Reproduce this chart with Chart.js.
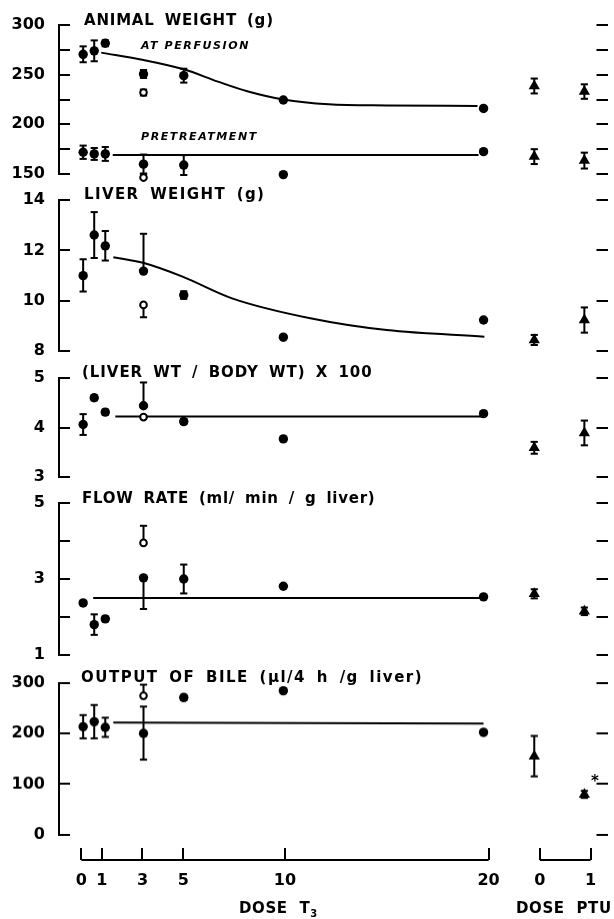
<!DOCTYPE html>
<html>
<head>
<meta charset="utf-8">
<script src="https://cdn.jsdelivr.net/npm/chart.js@4.4.0/dist/chart.umd.min.js"></script>
<style>
  html, body { margin: 0; padding: 0; background: #fff; }
  #page { position: relative; width: 614px; height: 919px; overflow: hidden; background: #fff; }
  .panel { position: absolute; left: 0; width: 614px; }
  .lbl { position: absolute; font-family: 'DejaVu Sans', sans-serif; color: #000; line-height: 1; white-space: pre; }
  .ttl { font-size: 15px; font-weight: bold; letter-spacing: 0.8px; word-spacing: 4px; }
  .sub { font-size: 11px; font-weight: bold; font-style: italic; letter-spacing: 1.6px; }
  .dose { font-size: 15px; font-weight: bold; letter-spacing: 0.6px; word-spacing: 6px; }
  .dose sub { font-size: 10px; letter-spacing: 0; }
</style>
</head>
<body>
<div id="page">
  <div class="lbl ttl" style="left:84px;top:13px">ANIMAL WEIGHT (g)</div>
  <div class="lbl sub" style="left:141px;top:40px">AT PERFUSION</div>
  <div class="lbl sub" style="left:141px;top:131px">PRETREATMENT</div>
  <div class="lbl ttl" style="left:84px;top:187px;letter-spacing:1.4px">LIVER WEIGHT (g)</div>
  <div class="lbl ttl" style="left:82px;top:365px;letter-spacing:0.95px">(LIVER WT / BODY WT) X 100</div>
  <div class="lbl ttl" style="left:82px;top:491px;letter-spacing:0.75px">FLOW RATE (ml/ min / g liver)</div>
  <div class="lbl ttl" style="left:81px;top:670px;letter-spacing:1.5px">OUTPUT OF BILE (μl/4 h /g liver)</div>
  <div class="lbl ttl" style="left:591px;top:774px">*</div>
  <div class="lbl dose" style="left:239px;top:901px">DOSE T<sub>3</sub></div>
  <div class="lbl dose" style="left:516px;top:901px">DOSE PTU</div>
</div>
<script>
// ---- shared x positions (T3 dose groups, then the two PTU groups) ----
const doseX = [0.1, 0.65, 1.2, 3.1, 5.1, 10.05, 20];
const openX = [3.1];
const ptuX = [22.52, 25.01];
const xTickPos = [0, 1, 3, 5, 10, 20, 22.52, 25.01];
const xTickLabels = ['0', '1', '3', '5', '10', '20', '0', '1'];

// ---- animal weight (g) ----
const weightTicks = [150, 175, 200, 225, 250, 275, 300];
const weightTickLabels = ['150', '', '200', '', '250', '', '300'];
const perfMean = [270.5, 274, 281.6, 250.7, 249, 224.5, 216];
const perfUp = [8, 10.5, 3, 4, 7, 0, 0];
const perfDown = [8, 10.5, 3, 4, 7, 0, 0];
const perfOpen = [232];
const perfOpenUp = [3];
const perfOpenDown = [3];
const perfPtu = [238.6, 233];
const perfPtuErr = [7.5, 7.3];
const perfCurveX = [1.0, 3.1, 5.1, 6.8, 8.3, 10.05, 12.3, 15.2, 19.7];
const perfCurveY = [272.2, 264.8, 255.4, 243, 233, 225, 220.2, 219, 218.5];

const pretMean = [171.9, 170.2, 170.2, 159.9, 159, 149.4, 172.5];
const pretUp = [6.7, 6, 7, 9.7, 10, 0, 0];
const pretDown = [6.7, 6, 7, 9.7, 10, 0, 0];
const pretOpen = [146.4];
const pretOpenUp = [4];
const pretOpenDown = [4];
const pretPtu = [167.5, 163.5];
const pretPtuErr = [7.5, 8];
const pretCurveX = [1.57, 19.75];
const pretCurveY = [169.2, 169.2];

// ---- liver weight (g) ----
const liverTicks = [8, 10, 12, 14];
const liverTickLabels = ['8', '10', '12', '14'];
const liverMean = [11.0, 12.61, 12.18, 11.18, 10.23, 8.56, 9.24];
const liverUp = [0.65, 0.91, 0.59, 1.48, 0.15, 0, 0];
const liverDown = [0.63, 0.91, 0.58, 0, 0.15, 0, 0];
const liverOpen = [9.84];
const liverOpenUp = [0];
const liverOpenDown = [0.49];
const liverPtu = [8.45, 9.24];
const liverPtuErr = [0.2, 0.5];
const liverCurveX = [1.6, 3.16, 5.04, 7.5, 11.39, 15.19, 20.04];
const liverCurveY = [11.73, 11.49, 10.96, 10.10, 9.31, 8.84, 8.58];

// ---- (liver wt / body wt) x 100 ----
const ratioTicks = [3, 4, 5];
const ratioTickLabels = ['3', '4', '5'];
const ratioMean = [4.06, 4.6, 4.31, 4.44, 4.12, 3.77, 4.28];
const ratioUp = [0.21, 0.05, 0.05, 0.47, 0.05, 0, 0];
const ratioDown = [0.21, 0.05, 0.05, 0, 0.05, 0, 0];
const ratioOpen = [4.21];
const ratioOpenUp = [0.03];
const ratioOpenDown = [0.03];
const ratioPtu = [3.59, 3.89];
const ratioPtuErr = [0.12, 0.25];
const ratioCurveX = [1.7, 20];
const ratioCurveY = [4.22, 4.22];

// ---- flow rate (ml/min/g liver) ----
const flowTicks = [1, 2, 3, 4, 5];
const flowTickLabels = ['1', '', '3', '', '5'];
const flowMean = [2.37, 1.8, 1.95, 3.03, 3.0, 2.81, 2.53];
const flowUp = [0.05, 0.27, 0.06, 0, 0.38, 0, 0];
const flowDown = [0.05, 0.27, 0.06, 0.82, 0.38, 0, 0];
const flowOpen = [3.95];
const flowOpenUp = [0.45];
const flowOpenDown = [0];
const flowPtu = [2.61, 2.15];
const flowPtuErr = [0.12, 0.1];
const flowCurveX = [0.6, 20];
const flowCurveY = [2.5, 2.5];

// ---- output of bile (ul/4 h/g liver) ----
const bileTicks = [0, 100, 200, 300];
const bileTickLabels = ['0', '100', '200', '300'];
const bileMean = [213.7, 223.7, 212.5, 200.5, 271.5, 284.9, 202.6];
const bileUp = [23, 33, 19, 53, 5, 0, 0];
const bileDown = [23, 33, 19, 52, 5, 0, 0];
const bileOpen = [274.9];
const bileOpenUp = [22];
const bileOpenDown = [0];
const bilePtu = [155.4, 79.7];
const bilePtuErr = [40, 7];
const bileCurveX = [1.6, 20];
const bileCurveY = [221.7, 219.7];

Chart.defaults.font.family = "'DejaVu Sans', sans-serif";
Chart.defaults.font.size = 16;
Chart.defaults.font.weight = 'bold';
Chart.defaults.color = '#000';

const X_MIN = -1.1, X_MAX = 26.16;
const AXIS_W = 59, PAD = 15;
const page = document.getElementById('page');

function pts(xs, ys) {
  return xs.map((x, i) => ({ x: x, y: ys[i] }));
}

// vertical bar from mean-down to mean+up for every point, split by gaps
function errPts(xs, mean, up, down) {
  const out = [];
  xs.forEach((x, i) => {
    if (!up[i] && !down[i]) return;
    out.push({ x: x, y: mean[i] - down[i] }, { x: x, y: mean[i] + up[i] }, { x: x, y: null });
  });
  return out;
}

function seriesSets(s) {
  const base = { clip: false, showLine: false, borderColor: '#000' };
  return [
    Object.assign({}, base, { order: 1, data: pts(doseX, s.mean), pointStyle: 'circle', pointRadius: 4.7,
      pointBackgroundColor: '#000', pointBorderWidth: 0 }),
    Object.assign({}, base, { order: 0, data: pts(openX, s.open), pointStyle: 'circle', pointRadius: 3.3,
      pointBackgroundColor: '#fff', pointBorderColor: '#000', pointBorderWidth: 2 }),
    Object.assign({}, base, { order: 1, data: pts(ptuX, s.ptu), pointStyle: 'triangle', pointRadius: 6.5,
      pointBackgroundColor: '#000', pointBorderWidth: 0 }),
    Object.assign({}, base, { order: 2, showLine: true, spanGaps: false, borderWidth: 2,
      data: errPts(doseX, s.mean, s.up, s.down)
        .concat(errPts(openX, s.open, s.openUp, s.openDown))
        .concat(errPts(ptuX, s.ptu, s.ptuErr, s.ptuErr)),
      pointStyle: 'line', pointRadius: 3.6, pointBorderWidth: 2, pointBorderColor: '#000' }),
    Object.assign({}, base, { order: 3, showLine: true, borderWidth: 2, pointRadius: 0,
      cubicInterpolationMode: 'monotone', data: pts(s.curveX, s.curveY) })
  ];
}

function yScales(ticks, labels) {
  const min = ticks[0], max = ticks[ticks.length - 1];
  const setTicks = function(scale) { scale.ticks = ticks.map(v => ({ value: v })); };
  // tick labels must not push the plot area in, so drop the scale's own padding
  const fitTo = w => function(scale) { scale.width = w; scale.paddingTop = 0; scale.paddingBottom = 0; };
  const grid = { drawOnChartArea: false, drawTicks: true, tickLength: -11, color: '#000', lineWidth: 2 };
  return {
    x: { type: 'linear', min: X_MIN, max: X_MAX, display: false },
    y: {
      type: 'linear', position: 'left', min: min, max: max,
      afterBuildTicks: setTicks,
      afterFit: fitTo(AXIS_W),
      border: { display: true, color: '#000', width: 2 },
      grid: grid,
      ticks: { padding: 25, color: '#000', callback: function(v) { return labels[ticks.indexOf(v)]; } }
    },
    y2: {
      type: 'linear', position: 'right', min: min, max: max,
      afterBuildTicks: setTicks,
      afterFit: fitTo(0),
      border: { display: false },
      grid: grid,
      ticks: { display: false }
    }
  };
}

function makePanel(areaTop, areaBottom, ticks, labels, seriesList) {
  const box = document.createElement('div');
  box.className = 'panel';
  box.style.top = (areaTop - PAD) + 'px';
  box.style.height = (areaBottom - areaTop + 2 * PAD) + 'px';
  const cv = document.createElement('canvas');
  box.appendChild(cv);
  page.insertBefore(box, page.firstChild);
  let datasets = [];
  seriesList.forEach(s => { datasets = datasets.concat(seriesSets(s)); });
  return new Chart(cv, {
    type: 'scatter',
    data: { datasets: datasets },
    options: {
      responsive: true,
      maintainAspectRatio: false,
      animation: false,
      events: [],
      layout: { padding: { top: PAD, bottom: PAD, left: 0, right: 0 } },
      plugins: { legend: { display: false }, tooltip: { enabled: false } },
      scales: yScales(ticks, labels)
    }
  });
}

// Animal weight
makePanel(25, 174, weightTicks, weightTickLabels, [
  { mean: perfMean, up: perfUp, down: perfDown, open: perfOpen, openUp: perfOpenUp, openDown: perfOpenDown,
    ptu: perfPtu, ptuErr: perfPtuErr, curveX: perfCurveX, curveY: perfCurveY },
  { mean: pretMean, up: pretUp, down: pretDown, open: pretOpen, openUp: pretOpenUp, openDown: pretOpenDown,
    ptu: pretPtu, ptuErr: pretPtuErr, curveX: pretCurveX, curveY: pretCurveY }
]);

// Liver weight
makePanel(200, 351.3, liverTicks, liverTickLabels, [
  { mean: liverMean, up: liverUp, down: liverDown, open: liverOpen, openUp: liverOpenUp, openDown: liverOpenDown,
    ptu: liverPtu, ptuErr: liverPtuErr, curveX: liverCurveX, curveY: liverCurveY }
]);

// Liver / body weight ratio
makePanel(378.3, 477.3, ratioTicks, ratioTickLabels, [
  { mean: ratioMean, up: ratioUp, down: ratioDown, open: ratioOpen, openUp: ratioOpenUp, openDown: ratioOpenDown,
    ptu: ratioPtu, ptuErr: ratioPtuErr, curveX: ratioCurveX, curveY: ratioCurveY }
]);

// Flow rate
makePanel(503.3, 655.3, flowTicks, flowTickLabels, [
  { mean: flowMean, up: flowUp, down: flowDown, open: flowOpen, openUp: flowOpenUp, openDown: flowOpenDown,
    ptu: flowPtu, ptuErr: flowPtuErr, curveX: flowCurveX, curveY: flowCurveY }
]);

// Bile output
makePanel(683.3, 834, bileTicks, bileTickLabels, [
  { mean: bileMean, up: bileUp, down: bileDown, open: bileOpen, openUp: bileOpenUp, openDown: bileOpenDown,
    ptu: bilePtu, ptuErr: bilePtuErr, curveX: bileCurveX, curveY: bileCurveY }
]);

// Bottom dose axis: broken baseline with upward ticks
(function() {
  const box = document.createElement('div');
  box.className = 'panel';
  box.style.top = '840px';
  box.style.height = '79px';
  const cv = document.createElement('canvas');
  box.appendChild(cv);
  page.insertBefore(box, page.firstChild);
  const t3 = xTickPos.slice(0, 6), ptu = xTickPos.slice(6);
  const line = [{ x: t3[0], y: 0 }, { x: t3[t3.length - 1], y: 0 }, { x: (t3[t3.length - 1] + ptu[0]) / 2, y: null },
                { x: ptu[0], y: 0 }, { x: ptu[ptu.length - 1], y: 0 }];
  new Chart(cv, {
    type: 'scatter',
    data: { datasets: [{ data: line, showLine: true, spanGaps: false, borderColor: '#000', borderWidth: 2,
                         pointRadius: 0, clip: false }] },
    options: {
      responsive: true,
      maintainAspectRatio: false,
      animation: false,
      events: [],
      layout: { padding: { top: 8, bottom: 0, left: AXIS_W, right: 0 } },
      plugins: { legend: { display: false }, tooltip: { enabled: false } },
      scales: {
        y: { type: 'linear', min: 0, max: 1, display: false },
        x: {
          type: 'linear', position: 'bottom', min: X_MIN, max: X_MAX,
          afterBuildTicks: function(scale) { scale.ticks = xTickPos.map(v => ({ value: v })); },
          afterFit: function(scale) { scale.height = 59; scale.paddingLeft = 0; scale.paddingRight = 0; },
          border: { display: false },
          grid: { drawOnChartArea: true, drawTicks: false, color: '#000', lineWidth: 2 },
          ticks: { padding: 11, autoSkip: false, maxRotation: 0, color: '#000',
                   callback: function(v) { return xTickLabels[xTickPos.indexOf(v)]; } }
        }
      }
    }
  });
})();
</script>
</body>
</html>
